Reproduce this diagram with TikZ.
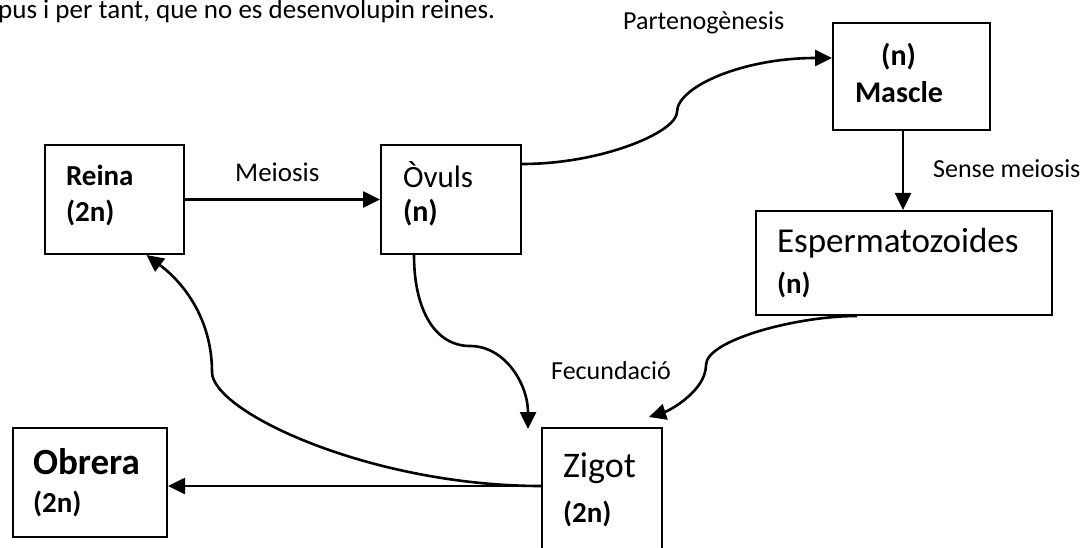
\documentclass[tikz,border=0pt]{standalone}
\usepackage{fontspec}
\setmainfont{Carlito}
\usetikzlibrary{arrows.meta,calc}

\begin{document}
\begin{tikzpicture}[x=1pt, y=-1pt,
    box/.style={draw, line width=2pt, inner ysep=0pt, align=left},
    lbl/.style={anchor=base west, inner sep=0pt, font=\fontsize{26}{31}\selectfont},
    arr/.style={-{Triangle[length=17pt,width=16pt]}, line width=2.6pt}
]
\useasboundingbox (0,0) rectangle (1086,548);

\node[lbl, font=\fontsize{27}{32}\selectfont] (intro) at (-2,19) {pus i per tant, que no es desenvolupin reines.};

\node[box, minimum width=139pt, minimum height=109pt, inner xsep=21pt, text width=97pt, text depth=49pt, font=\bfseries\fontsize{29}{36}\selectfont] (reina) at (114.5,199.5) {Reina\\(2n)};
\node[box, minimum width=140pt, minimum height=109pt, inner xsep=22pt, text width=96pt, text depth=50pt, font=\fontsize{30}{34}\selectfont] (ovuls) at (451,199.5) {{\fontsize{31}{34}\selectfont Òvuls}\\{\bfseries (n)}};
\node[box, minimum width=157pt, minimum height=107pt, inner xsep=22pt, text width=113pt, text depth=45pt, font=\bfseries\fontsize{30}{37}\selectfont] (mascle) at (911.5,76.5) {\phantom{M}(n)\\Mascle};
\node[box, minimum width=296pt, minimum height=104pt, inner xsep=21pt, text width=254pt, font=\fontsize{29}{41}\selectfont] (esperm) at (904,263) {{\fontsize{35}{41}\selectfont Espermatozoides}\\{\bfseries (n)}};
\node[box, minimum width=120pt, minimum height=124pt, inner xsep=21pt, text width=78pt, font=\fontsize{29}{45}\selectfont] (zigot) at (602,490) {{\fontsize{36}{45}\selectfont Zigot}\\{\bfseries (2n)}};
\node[box, minimum width=154pt, minimum height=109pt, inner xsep=20pt, text width=114pt, font=\bfseries\fontsize{29}{38}\selectfont] (obrera) at (90,482.5) {{\fontsize{37}{38}\selectfont Obrera}\\(2n)};

\node[lbl, font=\fontsize{27}{32}\selectfont] (meio) at (235,182) {Meiosis};
\node[lbl] (parteno) at (623,30) {Partenogènesis};
\node[lbl] (sense) at (933,178) {Sense meiosis};
\node[lbl] (fecund) at (551,379) {Fecundació};

\coordinate (pmid) at (677,112);
\coordinate (omid) at (470,346);
\coordinate (emid) at (706,365);
\coordinate (zmid) at (212,372);
\coordinate (zl) at ([yshift=4pt]zigot.west);

\draw[arr] (reina.east) -- (ovuls.west);
\draw[arr] ([yshift=35.5pt]ovuls.east) .. controls +(80,0) and +(0,20) .. (pmid) .. controls +(0,-25) and +(-90,0) .. ([yshift=18.5pt]mascle.west);
\draw[arr] ([xshift=-8.5pt]mascle.south) -- ([xshift=-8.5pt]mascle.south |- esperm.north);
\draw[arr] ([xshift=-47pt]esperm.south) .. controls +(-60,0) and +(0,-25) .. (emid) .. controls +(0,25) and +(22,-7) .. ([shift={(-14pt,10pt)}]zigot.north east);
\draw[arr] ([xshift=-37pt]ovuls.south) .. controls +(0,55) and +(-35,0) .. (omid) .. controls +(35,0) and +(0,-45) .. ([shift={(-13pt,-2pt)}]zigot.north west);
\draw[arr] (zl) .. controls +(-170,0) and +(0,40) .. (zmid) .. controls +(0,-50) and +(40,30) .. ([xshift=32pt]reina.south);
\draw[arr] (zl) -- (zl -| obrera.east);
\end{tikzpicture}
\end{document}
